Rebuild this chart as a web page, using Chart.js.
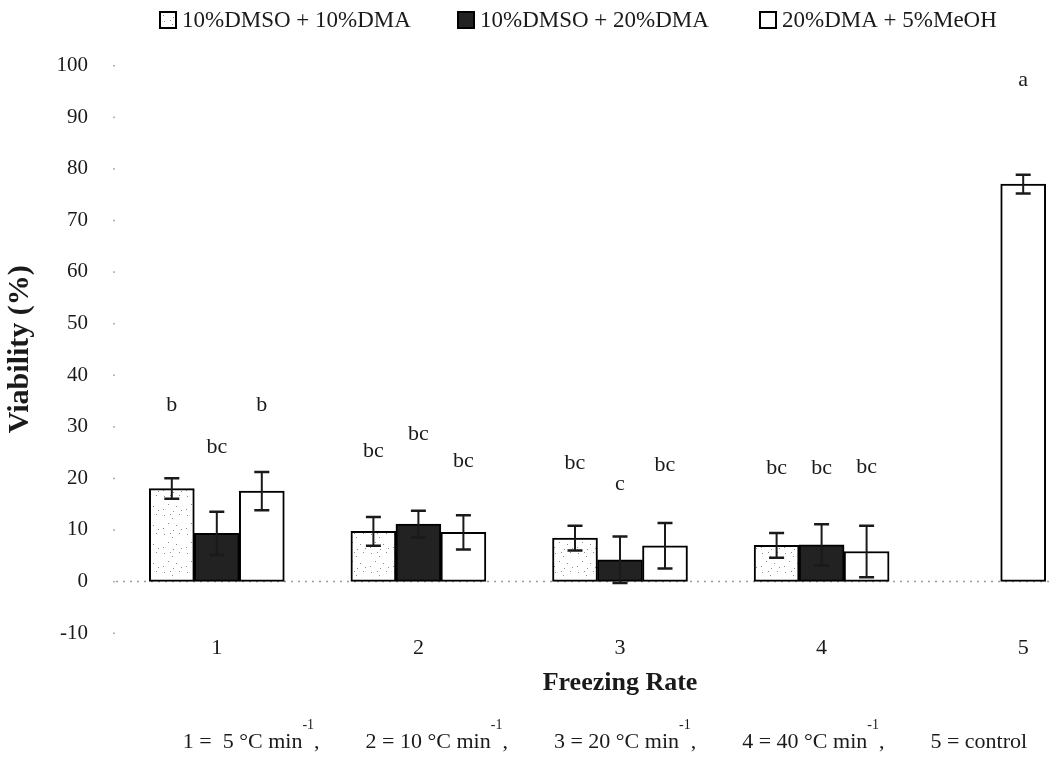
<!DOCTYPE html>
<html>
<head>
<meta charset="utf-8">
<title>Viability by freezing rate</title>
<script src="https://cdn.jsdelivr.net/npm/chart.js@4/dist/chart.umd.min.js"></script>
<style>
  html, body { margin: 0; padding: 0; background: #fff; overflow: hidden; }
  #wrap { width: 1053px; height: 760px; overflow: hidden; position: relative; }
  canvas { display: block; }
</style>
</head>
<body>
<div id="wrap"><canvas id="c" width="1140" height="760"></canvas></div>
<script>
// ---- data ----
const rates = ['1', '2', '3', '4', '5'];
const rateMeaning = ['5 °C min', '10 °C min', '20 °C min', '40 °C min', 'control'];
const perMinute = [true, true, true, true, false];

const seriesNames = ['10%DMSO + 10%DMA', '10%DMSO + 20%DMA', '20%DMA + 5%MeOH'];

const dmso10dma10 = [18.0, 9.7, 8.4, 7.0, null];
const dmso10dma10Err = [2.0, 2.8, 2.4, 2.4, null];
const dmso10dma10Sig = ['b', 'bc', 'bc', 'bc', null];

const dmso10dma20 = [9.3, 11.1, 4.2, 7.1, null];
const dmso10dma20Err = [4.2, 2.6, 4.5, 4.0, null];
const dmso10dma20Sig = ['bc', 'bc', 'c', 'bc', null];

const dma20meoh5 = [17.5, 9.5, 6.9, 5.8, null];
const dma20meoh5Err = [3.7, 3.3, 4.4, 5.0, null];
const dma20meoh5Sig = ['b', 'bc', 'bc', 'bc', null];

const control = [null, null, null, null, 77.0];
const controlErr = [null, null, null, null, 1.8];
const controlSig = [null, null, null, null, 'a'];

const yTicks = [-10, 0, 10, 20, 30, 40, 50, 60, 70, 80, 90, 100];

// ---- styling ----
const SERIF = "'Liberation Serif', 'Times New Roman', serif";
const INK = '#1a1a1a';

const canvas = document.getElementById('c');
const ctx0 = canvas.getContext('2d');

// sparse grey stipple used for the first treatment
const stippleTile = (() => {
  const c = document.createElement('canvas');
  c.width = 23; c.height = 19;
  const g = c.getContext('2d');
  g.fillStyle = '#ffffff';
  g.fillRect(0, 0, c.width, c.height);
  g.fillStyle = '#8c8c8c';
  [[3, 2], [11, 5], [18, 1], [7, 10], [15, 12], [2, 15], [20, 16], [12, 17], [9, 1]]
    .forEach(([x, y]) => g.fillRect(x, y, 1, 1));
  return c;
})();
const stipple = ctx0.createPattern(stippleTile, 'repeat');

// error bars on every bar
const errorBars = {
  id: 'errorBars',
  afterDatasetsDraw(chart) {
    const { ctx, scales: { y } } = chart;
    ctx.save();
    ctx.strokeStyle = INK;
    chart.data.datasets.forEach((ds, di) => {
      const meta = chart.getDatasetMeta(di);
      ds.data.forEach((v, i) => {
        if (v == null || ds.errors[i] == null) return;
        const x = meta.data[i].x;
        const yt = y.getPixelForValue(v + ds.errors[i]);
        const yb = y.getPixelForValue(v - ds.errors[i]);
        ctx.lineWidth = 2;
        ctx.beginPath();
        ctx.moveTo(x, yt); ctx.lineTo(x, yb);
        ctx.stroke();
        ctx.lineWidth = 2.5;
        ctx.beginPath();
        ctx.moveTo(x - 7.5, yt); ctx.lineTo(x + 7.5, yt);
        ctx.moveTo(x - 7.5, yb); ctx.lineTo(x + 7.5, yb);
        ctx.stroke();
      });
    });
    ctx.restore();
  }
};

// significance letters above the error bars
const sigLetters = {
  id: 'sigLetters',
  afterDatasetsDraw(chart, args, opts) {
    const { ctx, scales: { y } } = chart;
    ctx.save();
    ctx.fillStyle = INK;
    ctx.font = `22px ${SERIF}`;
    ctx.textAlign = 'center';
    ctx.textBaseline = 'middle';
    chart.data.datasets.forEach((ds, di) => {
      const meta = chart.getDatasetMeta(di);
      ds.data.forEach((v, i) => {
        if (v == null || !ds.letters[i]) return;
        const top = y.getPixelForValue(v + ds.errors[i]);
        ctx.fillText(ds.letters[i], meta.data[i].x, top - opts.lift[di][i]);
      });
    });
    ctx.restore();
  }
};

// dotted zero line and faint y tick dots
const baseline = {
  id: 'baseline',
  beforeDatasetsDraw(chart) {
    const { ctx, chartArea: a, scales: { y } } = chart;
    ctx.save();
    ctx.strokeStyle = '#9a9a9a';
    ctx.lineWidth = 1.5;
    ctx.setLineDash([2, 5]);
    const y0 = y.getPixelForValue(0);
    ctx.beginPath();
    ctx.moveTo(a.left, y0); ctx.lineTo(a.right, y0);
    ctx.stroke();
    ctx.setLineDash([]);
    ctx.fillStyle = '#b0b0b0';
    y.ticks.forEach(t => {
      ctx.fillRect(a.left - 3, y.getPixelForValue(t.value) - 0.5, 2, 1.5);
    });
    ctx.restore();
  }
};

// legend row across the top
const topLegend = {
  id: 'topLegend',
  afterDraw(chart, args, opts) {
    const { ctx } = chart;
    ctx.save();
    ctx.font = `23px ${SERIF}`;
    ctx.textBaseline = 'middle';
    ctx.textAlign = 'left';
    let k = 0;
    chart.data.datasets.forEach(ds => {
      if (ds.inLegend === false) return;
      const x = opts.x[k++];
      ctx.fillStyle = ds.backgroundColor;
      ctx.fillRect(x, opts.y - 8, 16, 16);
      ctx.strokeStyle = '#000';
      ctx.lineWidth = 2;
      ctx.strokeRect(x, opts.y - 8, 16, 16);
      ctx.fillStyle = INK;
      ctx.fillText(ds.label, x + 22, opts.y + 1);
    });
    ctx.restore();
  }
};

// footnote with the key to the freezing rates
const rateKey = {
  id: 'rateKey',
  afterDraw(chart, args, opts) {
    const { ctx } = chart;
    const main = `22px ${SERIF}`, sup = `14px ${SERIF}`;
    const parts = [];
    rates.forEach((r, i) => {
      const pad = rateMeaning[i].length < 9 && perMinute[i] ? '  ' : ' ';
      parts.push({ t: `${r} =${pad}${rateMeaning[i]}`, f: main, dy: 0 });
      if (perMinute[i]) parts.push({ t: '-1', f: sup, dy: -17 });
      if (i < rates.length - 1) parts.push({ t: ',', f: main, dy: 0, gap: opts.gap });
    });
    ctx.save();
    ctx.fillStyle = INK;
    ctx.textBaseline = 'middle';
    ctx.textAlign = 'left';
    let total = 0;
    parts.forEach(p => {
      ctx.font = p.f;
      p.w = ctx.measureText(p.t).width + (p.gap || 0);
      total += p.w;
    });
    let x = opts.cx - total / 2;
    parts.forEach(p => {
      ctx.font = p.f;
      ctx.fillText(p.t, x, opts.y + p.dy);
      x += p.w;
    });
    ctx.restore();
  }
};

const barStyle = { borderColor: '#000', borderWidth: 2, borderSkipped: false };

new Chart(canvas, {
  type: 'bar',
  data: {
    labels: rates,
    datasets: [
      { label: seriesNames[0], data: dmso10dma10, errors: dmso10dma10Err, letters: dmso10dma10Sig,
        backgroundColor: stipple, ...barStyle },
      { label: seriesNames[1], data: dmso10dma20, errors: dmso10dma20Err, letters: dmso10dma20Sig,
        backgroundColor: '#222222', ...barStyle },
      { label: seriesNames[2], data: dma20meoh5, errors: dma20meoh5Err, letters: dma20meoh5Sig,
        backgroundColor: '#ffffff', ...barStyle },
      { label: 'control', data: control, errors: controlErr, letters: controlSig, inLegend: false,
        backgroundColor: '#ffffff', ...barStyle }
    ]
  },
  options: {
    responsive: false,
    animation: false,
    devicePixelRatio: 1,
    skipNull: true,
    barThickness: 45,
    layout: { padding: { top: 65.5, right: 16, left: 0, bottom: 0 } },
    plugins: {
      legend: { display: false },
      tooltip: { enabled: false },
      topLegend: { x: [160, 458, 760], y: 20 },
      rateKey: { cx: 605, y: 742, gap: 46 },
      sigLetters: {
        lift: [
          [73, 66, 62, 65, 0],
          [65, 77, 52, 56, 0],
          [67, 54, 58, 58, 0],
          [0, 0, 0, 0, 95]
        ]
      }
    },
    scales: {
      x: {
        grid: { display: false, drawTicks: false },
        border: { display: false },
        ticks: { color: INK, font: { family: SERIF, size: 22 }, padding: 2 },
        title: {
          display: true, text: 'Freezing Rate', color: INK,
          font: { family: SERIF, size: 26, weight: 'bold' },
          padding: { top: 0, bottom: 61.4 }
        },
        afterFit(scale) { scale.height = 127; }
      },
      y: {
        min: -10, max: 100,
        afterBuildTicks(scale) { scale.ticks = yTicks.map(v => ({ value: v })); },
        grid: { display: false, drawTicks: false },
        border: { display: false },
        ticks: { color: INK, font: { family: SERIF, size: 21 }, padding: 28 },
        title: {
          display: true, text: 'Viability (%)', color: INK,
          font: { family: SERIF, size: 30, weight: 'bold' },
          padding: { top: 2, bottom: 0 }
        },
        afterFit(scale) { scale.width = 116; }
      }
    }
  },
  plugins: [baseline, errorBars, sigLetters, topLegend, rateKey]
});
</script>
</body>
</html>
